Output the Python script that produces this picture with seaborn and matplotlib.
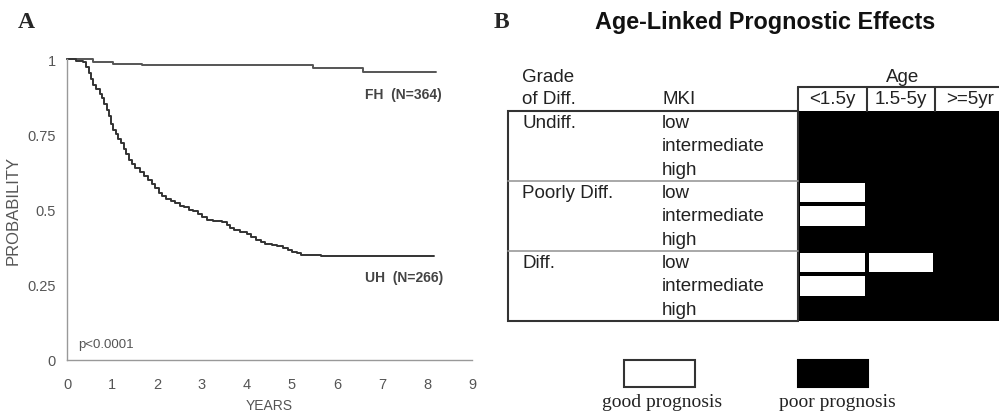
# Kaplan-Meier por histologia + tabela de efeitos prognósticos por idade
import numpy as np
import pandas as pd
import matplotlib
matplotlib.use("Agg")
import matplotlib.pyplot as plt
import seaborn as sns
from matplotlib.colors import ListedColormap
from matplotlib.patches import Rectangle

# -----------------------------
# Dados
# -----------------------------
fh_years = [0, 0.58, 1.02, 1.66, 5.47, 6.58, 8.2]
fh_prob = [1.0, 0.991, 0.983, 0.979, 0.971, 0.956, 0.956]

uh_years = [0, 0.2, 0.35, 0.42, 0.48, 0.53, 0.58, 0.65, 0.73, 0.78,
            0.83, 0.88, 0.93, 0.98, 1.03, 1.08, 1.14, 1.20, 1.26, 1.32,
            1.38, 1.44, 1.52, 1.62, 1.72, 1.80, 1.88, 1.96, 2.04, 2.12,
            2.20, 2.30, 2.40, 2.50, 2.60, 2.70, 2.80, 2.90, 3.00, 3.10,
            3.25, 3.44, 3.55, 3.63, 3.70, 3.85, 4.00, 4.10, 4.20, 4.30,
            4.40, 4.55, 4.66, 4.80, 4.90, 5.00, 5.10, 5.20, 5.65, 8.15]
uh_prob = [1.0, 0.995, 0.99, 0.975, 0.955, 0.935, 0.915, 0.90, 0.885, 0.87,
           0.85, 0.83, 0.81, 0.785, 0.765, 0.75, 0.735, 0.72, 0.70, 0.685,
           0.665, 0.65, 0.638, 0.625, 0.612, 0.598, 0.585, 0.57, 0.555, 0.545,
           0.535, 0.528, 0.52, 0.513, 0.507, 0.50, 0.495, 0.485, 0.475, 0.465,
           0.462, 0.46, 0.45, 0.44, 0.432, 0.425, 0.418, 0.41, 0.40, 0.392,
           0.387, 0.382, 0.38, 0.372, 0.366, 0.36, 0.355, 0.35, 0.347, 0.347]

x_ticks = list(range(0, 10))
y_ticks = [0, 0.25, 0.5, 0.75, 1]
y_tick_labels = ["0", "0.25", "0.5", "0.75", "1"]

grades = ["Undiff.", "Poorly Diff.", "Diff."]
mki_levels = ["low", "intermediate", "high"]
age_groups = ["<1.5y", "1.5-5y", ">=5yr"]
# 1 = poor prognosis, 0 = good prognosis (linhas: grade x MKI)
prognosis = [
    [1, 1, 1], [1, 1, 1], [1, 1, 1],
    [0, 1, 1], [0, 1, 1], [1, 1, 1],
    [0, 0, 1], [0, 1, 1], [1, 1, 1],
]

df = pd.concat([
    pd.DataFrame({"years": fh_years, "prob": fh_prob, "group": "FH"}),
    pd.DataFrame({"years": uh_years, "prob": uh_prob, "group": "UH"}),
])

sns.set_style("white")
plt.rcParams["font.family"] = ["Liberation Sans", "DejaVu Sans"]
W, H = 999, 414
fig = plt.figure(figsize=(W / 100, H / 100), dpi=100)

def fx(px):
    return px / W

def fy(py):
    return 1 - py / H

# -----------------------------
# Painel A: curvas de sobrevida
# -----------------------------
ax = fig.add_axes([fx(67), fy(361), fx(472) - fx(67), fy(60) - fy(361)])
sns.lineplot(data=df, x="years", y="prob", hue="group",
             palette={"FH": "#555555", "UH": "#333333"},
             drawstyle="steps-post", estimator=None, sort=False,
             legend=False, linewidth=1.4, ax=ax)
for ln in ax.lines:
    ln.set_clip_on(False)
ax.set_xlim(0, 9)
ax.set_ylim(0, 1)
ax.set_xticks(x_ticks)
ax.set_xticklabels([str(t) for t in x_ticks])
ax.set_yticks(y_ticks)
ax.set_yticklabels(y_tick_labels)
for s in ["top", "right"]:
    ax.spines[s].set_visible(False)
for s in ["left", "bottom"]:
    ax.spines[s].set_color("#999999")
    ax.spines[s].set_linewidth(1.0)
ax.tick_params(axis="x", direction="inout", length=6, width=0.9, color="#999999",
               pad=9, labelsize=10.5, labelcolor="#555555")
ax.tick_params(axis="y", direction="out", length=4, width=0.9, color="#999999",
               pad=4, labelsize=10.5, labelcolor="#555555")
ax.set_xlabel("YEARS", fontsize=10, color="#555555", labelpad=5)
ax.set_ylabel("PROBABILITY", fontsize=12, color="#555555", labelpad=5)
ax.text(6.62, 0.885, "FH  (N=364)", fontsize=10, fontweight="bold",
        color="#444444", va="center")
ax.text(6.62, 0.275, "UH  (N=266)", fontsize=10, fontweight="bold",
        color="#444444", va="center")
ax.text(0.25, 0.052, "p<0.0001", fontsize=9.5, color="#555555", va="center")

# -----------------------------
# Painel B: tabela (heatmap)
# -----------------------------
tab_left, tab_right, tab_top, tab_bot = 798, 1004, 112, 322
hax = fig.add_axes([fx(tab_left), fy(tab_bot), fx(tab_right) - fx(tab_left),
                    fy(tab_top) - fy(tab_bot)])
sns.heatmap(np.array(prognosis), ax=hax, cmap=ListedColormap(["white", "black"]),
            vmin=0, vmax=1, cbar=False, linewidths=1.6, linecolor="black",
            xticklabels=age_groups, yticklabels=False)
hax.xaxis.set_ticks_position("top")
hax.tick_params(axis="x", length=0, pad=3, labelsize=13.5, labelrotation=0,
                labelcolor="#222222")

# camada de anotações em coordenadas de pixel
ov = fig.add_axes([0, 0, 1, 1], zorder=3)
ov.set_xlim(0, W)
ov.set_ylim(H, 0)
ov.axis("off")

ov.text(26, 22, "A", fontsize=17, fontweight="bold", family="Liberation Serif",
        ha="center", va="center")
ov.text(501, 22, "B", fontsize=17, fontweight="bold", family="Liberation Serif",
        ha="center", va="center")
ov.text(765, 23, "Age-Linked Prognostic Effects", fontsize=16.8, fontweight="bold",
        ha="center", va="center", color="#111111")

edge = "#333333"
fs = 13.5
# cabeçalho
ov.text(522, 78, "Grade", fontsize=fs, va="center", color="#222222")
ov.text(522, 100, "of Diff.", fontsize=fs, va="center", color="#222222")
ov.text(662, 100, "MKI", fontsize=fs, va="center", color="#222222")
ov.text(903, 78, "Age", fontsize=fs, ha="center", va="center", color="#222222")
col_w = (tab_right - tab_left) / len(age_groups)
ov.plot([tab_left, W + 5], [88, 88], color=edge, lw=1.5)
for k in range(len(age_groups)):
    xk = tab_left + k * col_w
    ov.plot([xk, xk], [88, tab_top], color=edge, lw=1.5)

# caixa principal
ov.add_patch(Rectangle((508, tab_top), tab_left - 508, tab_bot - tab_top,
                       fill=False, edgecolor=edge, lw=1.5))
row_h = (tab_bot - tab_top) / len(prognosis)
for g in range(1, len(grades)):
    yg = tab_top + g * len(mki_levels) * row_h
    ov.plot([508, tab_left], [yg, yg], color="#999999", lw=1.2)

for g, grade in enumerate(grades):
    for m, level in enumerate(mki_levels):
        yc = tab_top + (g * len(mki_levels) + m + 0.5) * row_h
        if m == 0:
            ov.text(522, yc, grade, fontsize=fs, va="center", color="#222222")
        ov.text(662, yc, level, fontsize=fs, va="center", color="#222222")

# legenda
ov.add_patch(Rectangle((624, 361), 71, 27, facecolor="white", edgecolor=edge, lw=1.5))
ov.add_patch(Rectangle((798, 361), 70, 27, facecolor="black", edgecolor="black", lw=1.5))
ov.text(662, 403, "good prognosis", fontsize=14, family="Liberation Serif",
        ha="center", va="center", color="#222222")
ov.text(837, 403, "poor prognosis", fontsize=14, family="Liberation Serif",
        ha="center", va="center", color="#222222")

fig.savefig("out.png", dpi=100)
